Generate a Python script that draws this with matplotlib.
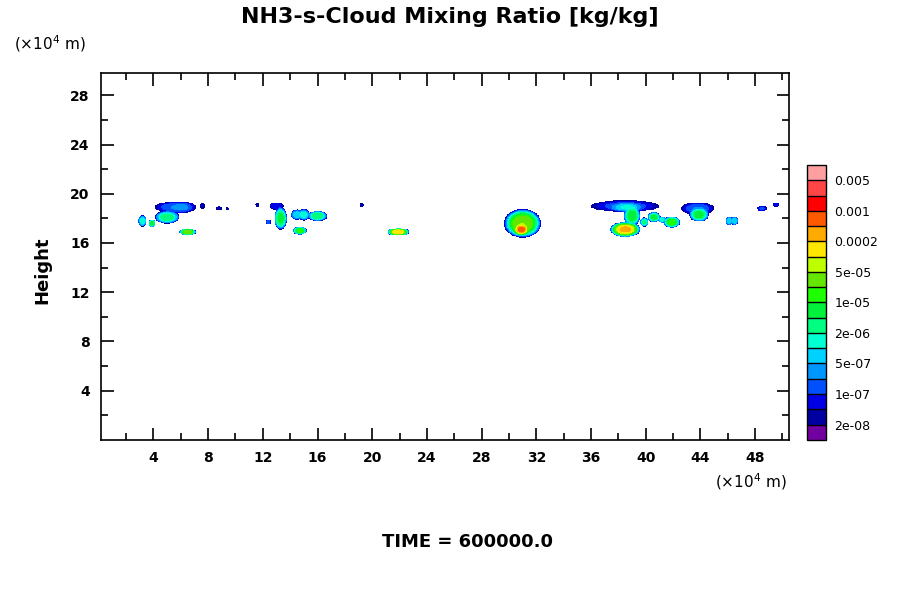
import numpy as np
import matplotlib
matplotlib.use("Agg")
import matplotlib.pyplot as plt
from matplotlib.colors import ListedColormap, BoundaryNorm

# contour levels [kg/kg]
levels = [2e-8, 5e-8, 1e-7, 2e-7, 5e-7, 1e-6, 2e-6, 5e-6, 1e-5, 2e-5, 5e-5,
          1e-4, 2e-4, 5e-4, 1e-3, 2e-3, 5e-3]
level_labels = ['2e-08', '1e-07', '5e-07', '2e-06', '1e-05', '5e-05', '0.0002', '0.001', '0.005']
colors = ['#7000a0', '#0000a0', '#0000e6', '#0050ff', '#0096ff', '#00d2ff', '#00ffd2',
          '#00ff80', '#00f03c', '#1eff00', '#64e600', '#beff00', '#ffe600', '#ffaa00',
          '#ff5a00', '#ff0000', '#ff4646', '#ffa0a0']

# cloud cells: centre x, centre y (10^4 m), half width, half height, peak
cell_x = [5.6, 5.0, 6.2, 3.2, 3.9, 7.6, 8.8, 9.4, 6.5, 11.6, 13.0, 13.3, 12.4, 14.5, 15.0, 16.0,
          14.7, 19.2, 21.9, 24.3, 31.0, 30.9, 38.5, 38.6, 39.0, 38.5, 39.9, 40.6, 41.2, 41.9,
          43.8, 43.9, 46.1, 46.5, 48.5, 49.5]
cell_y = [18.9, 18.1, 18.9, 17.8, 17.6, 19.0, 18.8, 18.8, 16.9, 19.1, 19.0, 18.0, 17.7, 18.3, 18.3, 18.2,
          17.0, 19.1, 16.9, 18.9, 17.6, 17.1, 19.0, 18.9, 18.2, 17.1, 17.7, 18.1, 17.9, 17.7,
          18.8, 18.3, 17.8, 17.8, 18.8, 19.1]
cell_w = [1.5, 0.9, 0.7, 0.3, 0.25, 0.2, 0.25, 0.12, 0.6, 0.15, 0.5, 0.45, 0.2, 0.45, 0.4, 0.7,
          0.5, 0.15, 0.8, 0.06, 1.35, 0.6, 2.5, 1.2, 0.6, 1.1, 0.3, 0.45, 0.25, 0.6,
          1.2, 0.7, 0.25, 0.25, 0.35, 0.25]
cell_h = [0.45, 0.5, 0.4, 0.45, 0.3, 0.2, 0.15, 0.1, 0.25, 0.15, 0.3, 0.9, 0.2, 0.4, 0.45, 0.4,
          0.3, 0.15, 0.3, 0.06, 1.15, 0.5, 0.45, 0.35, 0.8, 0.6, 0.35, 0.4, 0.25, 0.45,
          0.5, 0.55, 0.35, 0.35, 0.2, 0.12]
cell_peak = [2e-7, 4e-6, 1e-7, 1.5e-6, 8e-6, 4e-8, 4e-8, 3e-8, 4e-5, 3e-8, 1e-7, 8e-6, 1.5e-7, 1e-6, 1.5e-6, 5e-6,
             1.5e-5, 4e-8, 2e-4, 2.5e-8, 5e-5, 8e-4, 1.5e-7, 1e-6, 1e-5, 3e-4, 3e-6, 8e-6, 2e-6, 1.5e-5,
             2e-7, 8e-6, 1e-6, 1e-6, 1.2e-7, 1e-7]

x = np.linspace(0, 51, 700)
y = np.linspace(0, 30, 500)
X, Y = np.meshgrid(x, y)
q = np.zeros_like(X)
lo = np.log10(levels[0])
for cx, cy, w, h, p in zip(cell_x, cell_y, cell_w, cell_h, cell_peak):
    r2 = ((X - cx) / w) ** 2 + ((Y - cy) / h) ** 2
    lp = np.log10(p)
    q += 10 ** (lp - (lp - lo + 0.01) * r2 ** 1.5) * (r2 < 3)
q = np.where(q < levels[0], np.nan, q)

fig = plt.figure(figsize=(9, 6), dpi=100)
ax = fig.add_axes([0.112, 0.267, 0.765, 0.611])
cmap = ListedColormap(colors[1:-1])
cmap.set_under(colors[0]); cmap.set_over(colors[-1])
norm = BoundaryNorm(levels, cmap.N)
cs = ax.contourf(X, Y, q, levels=levels, cmap=cmap, norm=norm, extend='max')

ax.set_xlim(0.15, 50.5)
ax.set_ylim(0, 29.8)
ax.set_xticks(np.arange(4, 50, 4))
ax.set_xticks(np.arange(2, 51, 2), minor=True)
ax.set_yticks(np.arange(4, 29, 4))
ax.set_yticks(np.arange(2, 30, 2), minor=True)
ax.tick_params(which='both', direction='in', top=True, right=True, width=1.2)
ax.tick_params(which='major', length=9, labelsize=10, pad=8)
ax.tick_params(which='minor', length=5)
for t in ax.get_xticklabels() + ax.get_yticklabels():
    t.set_fontweight('bold')
for s in ax.spines.values():
    s.set_linewidth(1.2)

cax = fig.add_axes([0.897, 0.267, 0.021, 0.458])
ext = [levels[0] / 2] + levels + [levels[-1] * 2]
full_cmap = ListedColormap(colors)
cb_norm = BoundaryNorm(ext, full_cmap.N)
sm = matplotlib.cm.ScalarMappable(norm=cb_norm, cmap=full_cmap)
cb = fig.colorbar(sm, cax=cax, boundaries=ext, spacing='uniform', drawedges=True)
cb.set_ticks(levels[0::2])
cb.set_ticklabels(level_labels)
cb.ax.minorticks_off()
cb.ax.tick_params(which='both', length=0, labelsize=9, pad=6)
cb.outline.set_linewidth(1)
cb.dividers.set_linewidth(1)

fig.text(0.5, 0.972, 'NH3-s-Cloud Mixing Ratio [kg/kg]', ha='center', va='center',
         fontsize=16, fontweight='bold')
fig.text(0.016, 0.928, '(×10$^4$ m)', ha='left', va='center', fontsize=11)
fig.text(0.794, 0.197, '(×10$^4$ m)', ha='left', va='center', fontsize=11)
fig.text(0.047, 0.55, 'Height', rotation=90, ha='center', va='center',
         fontsize=13, fontweight='bold')
fig.text(0.52, 0.097, 'TIME = 600000.0', ha='center', va='center',
         fontsize=13, fontweight='bold')
fig.savefig('out.png', dpi=100)
